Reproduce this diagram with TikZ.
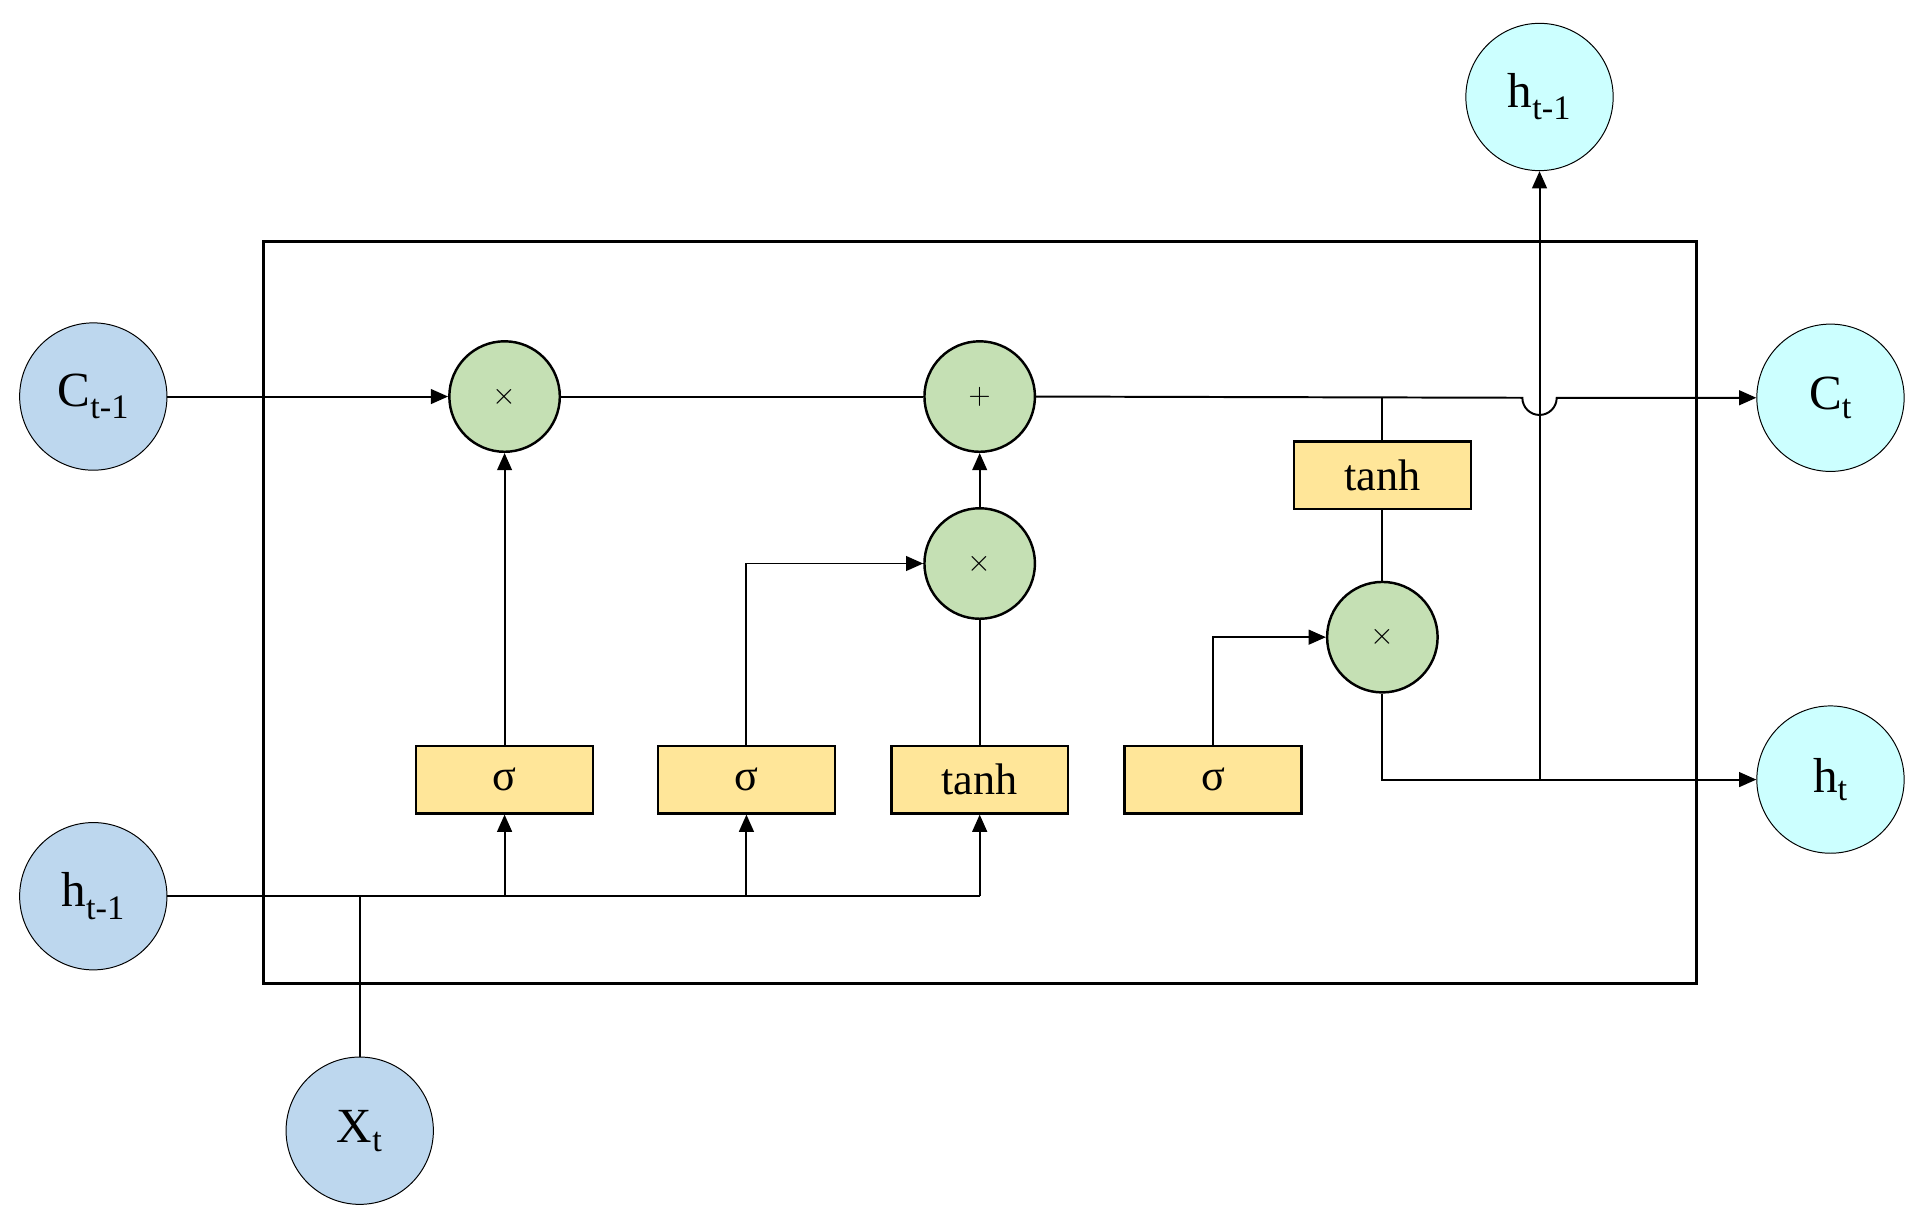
\documentclass[tikz,border=0pt]{standalone}
\usepackage{fontspec}
\setmainfont{Liberation Serif}
\usetikzlibrary{arrows.meta}
\begin{document}
\begin{tikzpicture}[x=1pt,y=-1pt,
  io/.style={circle,draw,line width=0.8pt,minimum size=120pt,inner sep=0pt,font=\fontsize{40}{44}\selectfont},
  inb/.style={io,fill=blue!25!cyan!10!white,fill={rgb,255:red,189;green,215;blue,238}},
  outc/.style={io,fill={rgb,255:red,204;green,255;blue,255}},
  op/.style={circle,draw,line width=2pt,minimum size=90pt,inner sep=0pt,fill={rgb,255:red,197;green,224;blue,180},font=\fontsize{30}{34}\selectfont},
  gate/.style={draw,line width=2pt,minimum width=144pt,minimum height=55pt,inner sep=0pt,fill={rgb,255:red,255;green,230;blue,153},font=\fontsize{36}{40}\selectfont},
  ln/.style={line width=1.6pt},
  ar/.style={ln,-{Triangle[length=14pt,width=12pt]}}]
\useasboundingbox (0,0) rectangle (1568,998);
\draw[line width=2.5pt] (215,197) rectangle (1382,801);
\node[inb] (c0) at (76,323) {C\textsubscript{t-1}};
\node[inb] (h0) at (76,730) {h\textsubscript{t-1}};
\node[inb] (x) at (293,921) {X\textsubscript{t}};
\node[outc] (htop) at (1254,79) {h\textsubscript{t-1}};
\node[outc] (ct) at (1491,324) {C\textsubscript{t}};
\node[outc] (ht) at (1491,635) {h\textsubscript{t}};
\node[op] (m1) at (411,323) {$\times$};
\node[op] (p) at (798,323) {$+$};
\node[op] (m2) at (798,459) {$\times$};
\node[op] (m3) at (1126,519) {$\times$};
\node[gate] (s1) at (411,635) {σ};
\node[gate] (s2) at (608,635) {σ};
\node[gate] (t1) at (798,635) {tanh};
\node[gate] (s3) at (988,635) {σ};
\node[gate] (t2) at (1126,387) {tanh};
\coordinate (xj) at (293,730);
\coordinate (hend) at (798,730);
\coordinate (cj) at (1126,324);
\coordinate (hj) at (1254,635);
\draw[ar] (c0) -- (m1);
\draw[ln] (m1) -- (p);
\draw[ar] (p.east) -- (1240,324) arc[start angle=180,end angle=0,radius=14] -- (ct.west);
\draw[ln] (t2.north) -- (cj);
\draw[ln] (t2) -- (m3);
\draw[ln] (m3.south) |- (hj);
\draw[ar] (hj) -- (ht.west);
\draw[ar] (hj) -- (htop.south);
\draw[ln] (h0.east) -- (hend);
\draw[ln] (x.north) -- (xj);
\draw[ar] (411,730) -- (s1.south);
\draw[ar] (608,730) -- (s2.south);
\draw[ar] (hend) -- (t1.south);
\draw[ar] (s1) -- (m1);
\draw[ar] (s2.north) |- (m2.west);
\draw[ln] (t1) -- (m2);
\draw[ar] (m2) -- (p);
\draw[ar] (s3.north) |- (m3.west);
\end{tikzpicture}
\end{document}
